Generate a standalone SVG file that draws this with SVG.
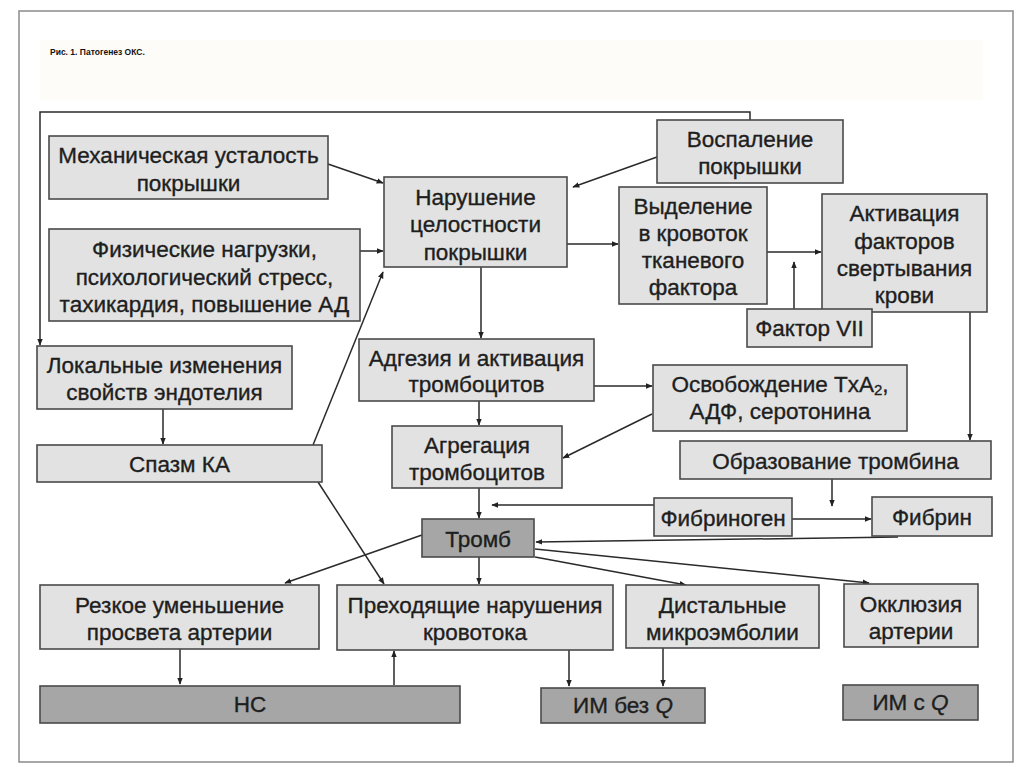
<svg xmlns="http://www.w3.org/2000/svg" width="1024" height="767" viewBox="0 0 1024 767">
<defs>
<marker id="ah" viewBox="0 0 10 10" refX="9" refY="5" markerWidth="7" markerHeight="7" markerUnits="userSpaceOnUse" orient="auto">
<path d="M0,1 L10,5 L0,9 z" fill="#222"/>
</marker>
<style>
.b{fill:#e2e2e2;stroke:#4a4a4a;stroke-width:1.6}
.d{fill:#a6a6a6;stroke:#4a4a4a;stroke-width:1.6}
.t{font-family:"Liberation Sans","Helvetica",Arial,sans-serif;font-size:22.5px;fill:#1e1e1e;stroke:#1e1e1e;stroke-width:0.35;text-anchor:middle}
.c{fill:none;stroke:#2a2a2a;stroke-width:1.5}
.a{fill:none;stroke:#2a2a2a;stroke-width:1.5;marker-end:url(#ah)}
</style>
</defs>
<rect x="0" y="0" width="1024" height="767" fill="#ffffff"/>
<rect x="19" y="11" width="994" height="751" fill="#ffffff" stroke="#8a8a8a" stroke-width="1.5"/>
<rect x="40" y="40" width="943" height="60" fill="#fefcf8"/>
<text x="50" y="55" font-family="Liberation Sans, Arial, sans-serif" font-size="8.5" font-weight="bold" fill="#111">Рис. 1. Патогенез ОКС.</text>

<g id="connectors">
<polyline class="a" points="750,120 750,112 40,112 40,345"/>
<line class="a" x1="328" y1="164" x2="383" y2="183"/>
<line class="a" x1="360" y1="251" x2="383" y2="251"/>
<line class="a" x1="313" y1="445" x2="383" y2="272"/>
<line class="a" x1="657" y1="157" x2="573" y2="187"/>
<line class="a" x1="567" y1="244" x2="618" y2="244"/>
<line class="a" x1="767" y1="252" x2="821" y2="252"/>
<line class="a" x1="794" y1="309" x2="794" y2="262"/>
<line class="a" x1="970" y1="312" x2="970" y2="440"/>
<line class="a" x1="481" y1="267" x2="481" y2="338"/>
<line class="a" x1="594" y1="386" x2="652" y2="386"/>
<line class="a" x1="652" y1="414" x2="563" y2="458"/>
<line class="a" x1="479" y1="401" x2="479" y2="425"/>
<line class="a" x1="479" y1="488" x2="479" y2="518"/>
<line class="a" x1="654" y1="505" x2="492" y2="505"/>
<line class="a" x1="792" y1="519" x2="871" y2="519"/>
<line class="a" x1="832" y1="479" x2="832" y2="506"/>
<line class="a" x1="898" y1="537" x2="536" y2="542"/>
<line class="a" x1="163" y1="409" x2="163" y2="444"/>
<line class="a" x1="318" y1="482" x2="384" y2="584"/>
<line class="a" x1="422" y1="535" x2="285" y2="583"/>
<line class="a" x1="479" y1="557" x2="479" y2="584"/>
<line class="a" x1="535" y1="557" x2="686" y2="585"/>
<line class="a" x1="535" y1="549" x2="869" y2="583"/>
<line class="a" x1="180" y1="649" x2="180" y2="684"/>
<line class="a" x1="394" y1="685" x2="394" y2="651"/>
<line class="a" x1="569" y1="650" x2="569" y2="686"/>
<line class="a" x1="663" y1="648" x2="663" y2="686"/>
</g>

<g id="n-mech"><rect class="b" x="49" y="136" width="279" height="63"/>
<text class="t" x="188.5" y="163">Механическая усталость</text><text class="t" x="188.5" y="191">покрышки</text></g>

<g id="n-phys"><rect class="b" x="49" y="229" width="311" height="92"/>
<text class="t" x="204.5" y="257">Физические нагрузки,</text><text class="t" x="204.5" y="285">психологический стресс,</text><text class="t" x="204.5" y="312">тахикардия, повышение АД</text></g>

<g id="n-narush"><rect class="b" x="384" y="177" width="183" height="90"/>
<text class="t" x="475.5" y="205">Нарушение</text><text class="t" x="475.5" y="232">целостности</text><text class="t" x="475.5" y="260">покрышки</text></g>

<g id="n-vospal"><rect class="b" x="657" y="120" width="186" height="63"/>
<text class="t" x="750" y="147">Воспаление</text><text class="t" x="750" y="174">покрышки</text></g>

<g id="n-vydel"><rect class="b" x="619" y="187" width="148" height="117"/>
<text class="t" x="693" y="214">Выделение</text><text class="t" x="693" y="241">в кровоток</text><text class="t" x="693" y="268">тканевого</text><text class="t" x="693" y="295">фактора</text></g>

<g id="n-aktiv"><rect class="b" x="822" y="194" width="165" height="118"/>
<text class="t" x="904.5" y="221">Активация</text><text class="t" x="904.5" y="249">факторов</text><text class="t" x="904.5" y="276">свертывания</text><text class="t" x="904.5" y="303">крови</text></g>

<g id="n-f7"><rect class="b" x="747" y="309" width="125" height="38"/>
<text class="t" x="809.5" y="336">Фактор VII</text></g>

<g id="n-lokal"><rect class="b" x="37" y="346" width="255" height="63"/>
<text class="t" x="164.5" y="373">Локальные изменения</text><text class="t" x="164.5" y="400">свойств эндотелия</text></g>

<g id="n-spazm"><rect class="b" x="37" y="445" width="285" height="37"/>
<text class="t" x="179.5" y="472">Спазм КА</text></g>

<g id="n-adgez"><rect class="b" x="359" y="339" width="235" height="62"/>
<text class="t" x="476.5" y="366">Адгезия и активация</text><text class="t" x="476.5" y="392">тромбоцитов</text></g>

<g id="n-osvob"><rect class="b" x="653" y="365" width="254" height="66"/>
<text class="t" x="780" y="392">Освобождение TxA<tspan font-size="15" dy="3">2</tspan><tspan dy="-3">,</tspan></text><text class="t" x="780" y="419">АДФ, серотонина</text></g>

<g id="n-agreg"><rect class="b" x="392" y="426" width="170" height="62"/>
<text class="t" x="477" y="453">Агрегация</text><text class="t" x="477" y="480">тромбоцитов</text></g>

<g id="n-obraz"><rect class="b" x="680" y="441" width="311" height="38"/>
<text class="t" x="835.5" y="469">Образование тромбина</text></g>

<g id="n-fibrinogen"><rect class="b" x="654" y="498" width="138" height="38"/>
<text class="t" x="723" y="526">Фибриноген</text></g>

<g id="n-fibrin"><rect class="b" x="872" y="497" width="120" height="39"/>
<text class="t" x="932" y="525">Фибрин</text></g>

<g id="n-tromb"><rect class="d" x="422" y="519" width="112" height="38"/>
<text class="t" x="478" y="547">Тромб</text></g>

<g id="n-rezkoe"><rect class="b" x="40" y="585" width="279" height="64"/>
<text class="t" x="179.5" y="613">Резкое уменьшение</text><text class="t" x="179.5" y="640">просвета артерии</text></g>

<g id="n-prehod"><rect class="b" x="337" y="585" width="276" height="65"/>
<text class="t" x="475" y="613">Преходящие нарушения</text><text class="t" x="475" y="640">кровотока</text></g>

<g id="n-dist"><rect class="b" x="626" y="585" width="193" height="63"/>
<text class="t" x="722.5" y="613">Дистальные</text><text class="t" x="722.5" y="640">микроэмболии</text></g>

<g id="n-okkl"><rect class="b" x="844" y="584" width="134" height="63"/>
<text class="t" x="911" y="612">Окклюзия</text><text class="t" x="911" y="639">артерии</text></g>

<g id="n-ns"><rect class="d" x="40" y="686" width="420" height="37"/>
<text class="t" x="250" y="712">НС</text></g>

<g id="n-im-bez-q"><rect class="d" x="541" y="688" width="164" height="35"/>
<text class="t" x="623" y="713">ИМ без <tspan font-style="italic">Q</tspan></text></g>

<g id="n-im-s-q"><rect class="d" x="843" y="685" width="135" height="35"/>
<text class="t" x="910.5" y="710">ИМ с <tspan font-style="italic">Q</tspan></text></g>
</svg>
